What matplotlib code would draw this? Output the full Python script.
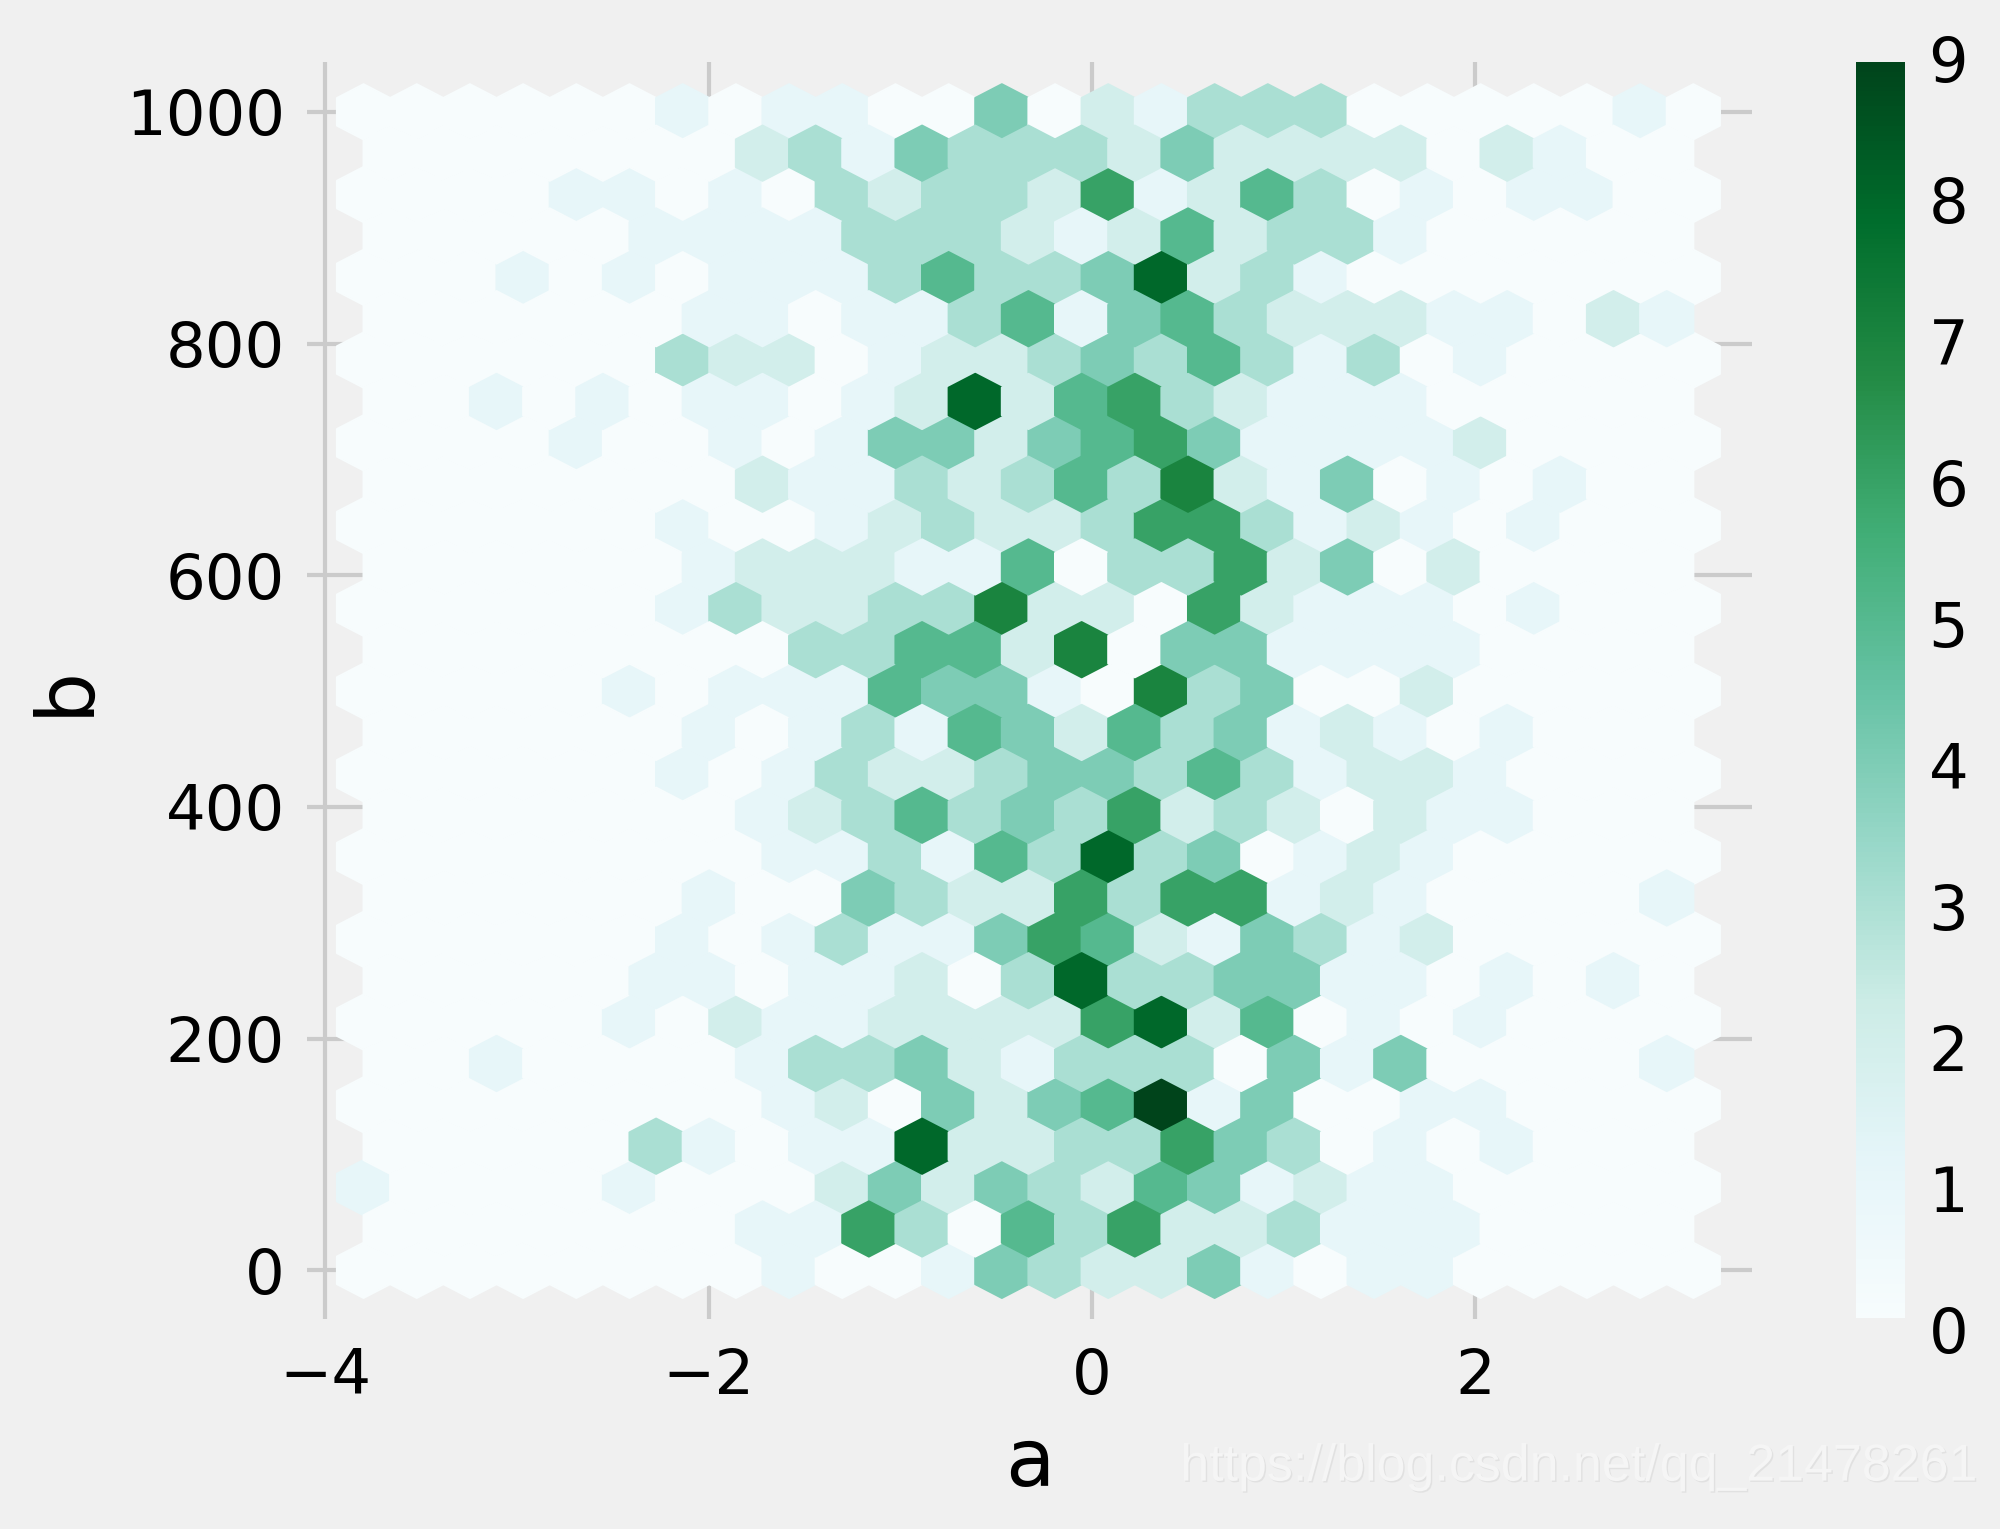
import matplotlib
matplotlib.use("Agg")
import matplotlib.pyplot as plt
import matplotlib.patheffects as pe
import numpy as np

a_min = -3.80
a_max = 3.137
b_min = 0
b_max = 1000
grid_cols = 25

# counts per hexagon, read from the top row down; rows alternate 26 / 25 cells
counts = [
    [0,0,0,0,0,0,1,0,1,1,0,0,4,0,2,1,3,3,3,0,0,0,0,0,1,0],
    [0,0,0,0,0,0,0,2,3,1,4,3,3,3,2,4,2,2,2,2,0,2,1,0,0],
    [0,0,0,0,1,1,0,1,0,3,2,3,3,2,6,1,2,5,3,0,1,0,1,1,0,0],
    [0,0,0,0,0,1,1,1,1,3,3,3,2,1,2,5,2,3,3,1,0,0,0,0,0],
    [0,0,0,1,0,1,0,1,1,1,3,5,3,3,4,8,2,3,1,0,0,0,0,0,0,0],
    [0,0,0,0,0,0,1,1,0,1,1,3,5,1,4,5,3,2,2,2,1,1,0,2,1],
    [0,0,0,0,0,0,3,2,2,0,1,2,2,3,4,3,5,3,1,3,0,1,0,0,0,0],
    [0,0,1,0,1,0,1,1,0,1,2,8,2,5,6,3,2,1,1,1,0,0,0,0,0],
    [0,0,0,0,1,0,0,1,0,1,4,4,2,4,5,6,4,1,1,1,1,2,0,0,0,0],
    [0,0,0,0,0,0,0,2,1,1,3,2,3,5,3,7,2,1,4,0,1,0,1,0,0],
    [0,0,0,0,0,0,1,0,0,1,2,3,2,2,3,6,6,3,1,2,1,0,1,0,0,0],
    [0,0,0,0,0,0,1,2,2,2,1,1,5,0,3,3,6,2,4,0,2,0,0,0,0],
    [0,0,0,0,0,0,1,3,2,2,3,3,7,2,2,0,6,2,1,1,1,0,1,0,0,0],
    [0,0,0,0,0,0,0,0,3,3,5,5,2,7,0,4,4,1,1,1,1,0,0,0,0],
    [0,0,0,0,0,1,0,1,1,1,5,4,4,1,0,7,3,4,0,0,2,0,0,0,0,0],
    [0,0,0,0,0,0,1,0,1,3,1,5,4,2,5,3,4,1,2,1,0,1,0,0,0],
    [0,0,0,0,0,0,1,0,1,3,2,2,3,4,4,3,5,3,1,2,2,1,0,0,0,0],
    [0,0,0,0,0,0,0,1,2,3,5,3,4,3,6,2,3,2,0,2,1,1,0,0,0],
    [0,0,0,0,0,0,0,0,1,1,3,1,5,3,8,3,4,0,1,2,1,0,0,0,0,0],
    [0,0,0,0,0,0,1,0,0,4,3,2,2,6,3,6,6,1,2,1,0,0,0,0,1],
    [0,0,0,0,0,0,1,0,1,3,1,1,4,6,5,2,1,4,3,1,2,0,0,0,0,0],
    [0,0,0,0,0,1,1,0,1,1,2,0,3,8,3,3,4,4,1,1,0,1,0,1,0],
    [0,0,0,0,0,1,0,2,1,1,2,2,2,2,6,8,2,5,0,1,0,1,0,0,0,0],
    [0,0,1,0,0,0,0,1,3,3,4,2,1,3,3,3,0,4,1,4,0,0,0,0,1],
    [0,0,0,0,0,0,0,0,1,2,0,4,2,4,5,9,1,4,0,0,1,1,0,0,0,0],
    [0,0,0,0,0,3,1,0,1,1,8,2,2,3,3,6,4,3,0,1,0,1,0,0,0],
    [1,0,0,0,0,1,0,0,0,2,4,2,4,3,2,5,4,1,2,1,1,0,0,0,0,0],
    [0,0,0,0,0,0,0,1,1,6,3,0,5,3,6,2,2,3,1,1,1,0,0,0,0],
    [0,0,0,0,0,0,0,0,1,0,0,1,4,3,2,2,4,1,0,1,1,0,0,0,0,0],
]

x_ticks = [-4, -2, 0, 2]
y_ticks = [0, 200, 400, 600, 800, 1000]
cbar_ticks = list(range(10))

# hexbin wants points, so give it one point per cell with the count as C
step_a = (a_max - a_min) / grid_cols
row_b = np.linspace(b_max, b_min, len(counts))
xs, ys, cs = [], [], []
for b, row in zip(row_b, counts):
    shift = 0 if len(row) == grid_cols + 1 else step_a / 2
    for i, c in enumerate(row):
        xs.append(a_min + shift + i * step_a)
        ys.append(b)
        cs.append(c)

W, H = 2000, 1529
bg = "#f0f0f0"
plt.rcParams["font.family"] = "DejaVu Sans"

fig = plt.figure(figsize=(W / 100, H / 100), dpi=100, facecolor=bg)


def box(left, top, right, bottom):
    return [left / W, 1 - bottom / H, (right - left) / W, (bottom - top) / H]


ax = fig.add_axes(box(307, 62, 1752, 1319), facecolor=bg)
hb = ax.hexbin(xs, ys, C=cs, gridsize=grid_cols, cmap="BuGn", vmin=0, vmax=9, linewidths=1.5)
ax.set_xlim(-4.095, 3.443)
ax.set_ylim(-42, 1043)
ax.set_xticks(x_ticks)
ax.set_yticks(y_ticks)
ax.set_axisbelow(True)
ax.grid(True, color="#cbcbcb", linewidth=3)
ax.tick_params(length=0, labelsize=45)
ax.tick_params(axis="x", pad=20)
ax.tick_params(axis="y", pad=16)
for s in ax.spines.values():
    s.set_visible(False)
ax.set_xlabel("a", fontsize=58, labelpad=13)
ax.set_ylabel("b", fontsize=58, labelpad=15)

cax = fig.add_axes(box(1856, 62, 1905, 1318))
cb = fig.colorbar(hb, cax=cax)
cb.outline.set_visible(False)
cb.set_ticks([])

# colorbar labels sit on a slightly taller scale than the bar itself
lab = fig.add_axes(box(1856, 58, 1905, 1330), frameon=False)
lab.set_ylim(0, 9)
lab.set_xticks([])
lab.yaxis.tick_right()
lab.set_yticks(cbar_ticks)
lab.tick_params(length=0, labelsize=45, pad=17)
lab.patch.set_alpha(0)

fig.text(0.988, 0.0405, "https://blog.csdn.net/qq_21478261", ha="right", va="center",
         fontsize=37.4, family="Liberation Sans", color="#f5f5f5",
         path_effects=[pe.withSimplePatchShadow(offset=(1, -1), shadow_rgbFace="#d8d8d8", alpha=0.6)])

fig.savefig("out.png", dpi=100, facecolor=bg)
